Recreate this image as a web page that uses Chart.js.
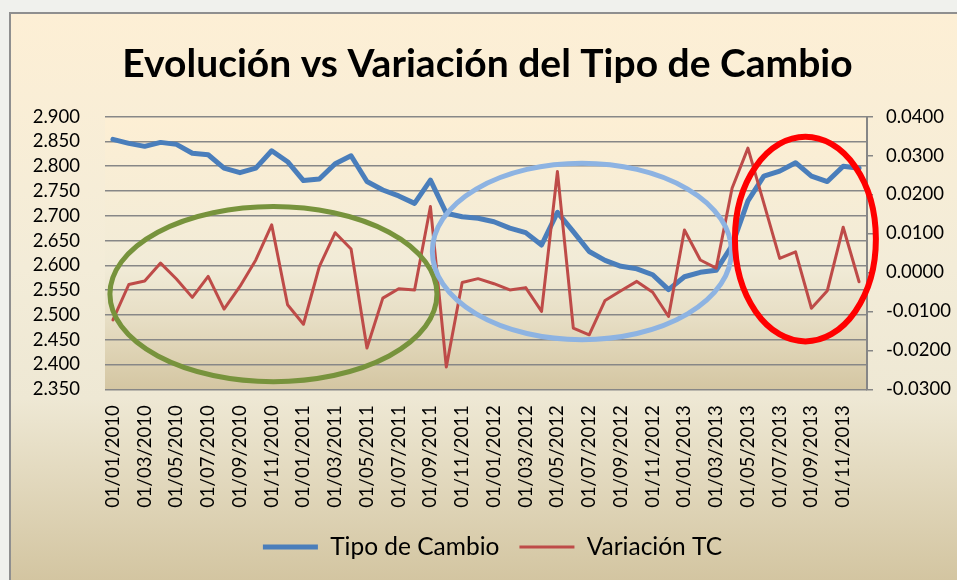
<!DOCTYPE html>
<html>
<head>
<meta charset="utf-8">
<script src="https://cdn.jsdelivr.net/npm/chart.js@4/dist/chart.umd.min.js"></script>
<style>
  html, body { margin: 0; padding: 0; background: #F0F1ED; }
  #wrap { width: 957px; height: 580px; }
</style>
</head>
<body>
<div id="wrap"><canvas id="c" width="957" height="580"></canvas></div>
<script>
// ---- data ----
const months = [
  "01/01/2010","01/02/2010","01/03/2010","01/04/2010","01/05/2010","01/06/2010",
  "01/07/2010","01/08/2010","01/09/2010","01/10/2010","01/11/2010","01/12/2010",
  "01/01/2011","01/02/2011","01/03/2011","01/04/2011","01/05/2011","01/06/2011",
  "01/07/2011","01/08/2011","01/09/2011","01/10/2011","01/11/2011","01/12/2011",
  "01/01/2012","01/02/2012","01/03/2012","01/04/2012","01/05/2012","01/06/2012",
  "01/07/2012","01/08/2012","01/09/2012","01/10/2012","01/11/2012","01/12/2012",
  "01/01/2013","01/02/2013","01/03/2013","01/04/2013","01/05/2013","01/06/2013",
  "01/07/2013","01/08/2013","01/09/2013","01/10/2013","01/11/2013","01/12/2013"
];
const tipoDeCambio = [
  2.854, 2.846, 2.840, 2.848, 2.844, 2.826, 2.823, 2.796, 2.787, 2.796, 2.831, 2.809,
  2.771, 2.774, 2.805, 2.821, 2.769, 2.752, 2.740, 2.725, 2.772, 2.705, 2.698, 2.695,
  2.688, 2.675, 2.666, 2.641, 2.707, 2.668, 2.628, 2.610, 2.598, 2.593, 2.581, 2.551,
  2.577, 2.586, 2.590, 2.640, 2.730, 2.780, 2.790, 2.807, 2.780, 2.769, 2.800, 2.796
];
const variacionTC = [
  -0.0122, -0.0031, -0.0022, 0.0024, -0.0017, -0.0064, -0.0010, -0.0094, -0.0036, 0.0032, 0.0122, -0.0083,
  -0.0133, 0.0015, 0.0102, 0.0060, -0.0194, -0.0066, -0.0042, -0.0045, 0.0169, -0.0243, -0.0026, -0.0016,
  -0.0029, -0.0045, -0.0039, -0.0100, 0.0259, -0.0143, -0.0160, -0.0072, -0.0047, -0.0023, -0.0051, -0.0113,
  0.0109, 0.0032, 0.0011, 0.0216, 0.0319, 0.0178, 0.0036, 0.0053, -0.0092, -0.0047, 0.0116, -0.0024
];
const leftTicks = { min: 2.35, max: 2.9, step: 0.05 };
const rightTicks = { min: -0.03, max: 0.04, step: 0.01 };
const seriesNames = ["Tipo de Cambio", "Variación TC"];
const titleText = "Evolución vs Variación del Tipo de Cambio";

// highlight ellipses, in data units (category index, left-axis value)
const highlights = [
  { cx: 10.11, cy: 2.542, rx: 10.30, ry: 0.1766, color: "#77933C", width: 5 },
  { cx: 29.54, cy: 2.628, rx: 9.42,  ry: 0.178,  color: "#8DB3E2", width: 5 },
  { cx: 43.62, cy: 2.653, rx: 4.44,  ry: 0.2064, color: "#FF0000", width: 6 }
];

// ---- layout constants ----
const PLOT_LEFT = 105, PLOT_RIGHT = 867, PLOT_BOTTOM = 389.3, LAYOUT_BOTTOM = 10.75;
const LEGEND_SHIFT = 14, TITLE_SHIFT = 9;

const bgPlugin = {
  id: 'bg',
  beforeDraw(chart) {
    const ctx = chart.ctx, W = chart.width, H = chart.height;
    ctx.save();
    ctx.fillStyle = '#F0F1ED';
    ctx.fillRect(0, 0, W, H);
    const g = ctx.createLinearGradient(0, 13, 0, H);
    g.addColorStop(0, '#FDEFD5');
    g.addColorStop(0.45, '#F3ECD8');
    g.addColorStop(0.68, '#EEE8D4');
    g.addColorStop(1, '#D3C5A1');
    ctx.fillStyle = g;
    ctx.fillRect(10, 13, W, H);
    ctx.strokeStyle = '#8F8F8F';
    ctx.lineWidth = 2;
    ctx.strokeRect(10, 13, W + 10, H + 10);
    const a = chart.chartArea;
    const pg = ctx.createLinearGradient(0, a.top, 0, a.bottom);
    pg.addColorStop(0, '#FDEFD4');
    pg.addColorStop(0.55, '#F1EBD7');
    pg.addColorStop(0.75, '#E6DDC3');
    pg.addColorStop(1, '#D4C6A2');
    ctx.fillStyle = pg;
    ctx.fillRect(a.left, a.top, a.right - a.left, a.bottom - a.top);
    ctx.restore();
  }
};

const shiftPlugin = {
  id: 'shiftBlocks',
  afterLayout(chart) {
    if (chart.legend) {
      chart.legend.left += LEGEND_SHIFT;
      chart.legend.right += LEGEND_SHIFT;
    }
    if (chart.titleBlock) {
      chart.titleBlock.left += TITLE_SHIFT;
      chart.titleBlock.right += TITLE_SHIFT;
    }
  }
};

const ellipsePlugin = {
  id: 'ellipses',
  afterDatasetsDraw(chart) {
    const ctx = chart.ctx, xs = chart.scales.x, ys = chart.scales.y;
    ctx.save();
    highlights.forEach(e => {
      const cx = xs.getPixelForValue(e.cx);
      const rx = xs.getPixelForValue(e.cx + e.rx) - cx;
      const cy = ys.getPixelForValue(e.cy);
      const ry = cy - ys.getPixelForValue(e.cy + e.ry);
      ctx.beginPath();
      ctx.ellipse(cx, cy, Math.abs(rx), Math.abs(ry), 0, 0, Math.PI * 2);
      ctx.strokeStyle = e.color;
      ctx.lineWidth = e.width;
      ctx.stroke();
    });
    ctx.restore();
  }
};

const tickFont = { family: 'Lato', size: 18.5 };

new Chart(document.getElementById('c'), {
  type: 'line',
  data: {
    labels: months,
    datasets: [
      {
        label: seriesNames[0],
        data: tipoDeCambio,
        yAxisID: 'y',
        borderColor: '#4A7EBB',
        backgroundColor: '#4A7EBB',
        borderWidth: 5,
        pointRadius: 0,
        pointStyle: 'line',
        tension: 0,
        borderJoinStyle: 'round',
        borderCapStyle: 'round',
        order: 1
      },
      {
        label: seriesNames[1],
        data: variacionTC,
        yAxisID: 'y1',
        borderColor: '#BE4B48',
        backgroundColor: '#BE4B48',
        borderWidth: 3,
        pointRadius: 0,
        pointStyle: 'line',
        tension: 0,
        borderJoinStyle: 'round',
        borderCapStyle: 'round',
        order: 0
      }
    ]
  },
  options: {
    responsive: false,
    animation: false,
    devicePixelRatio: 1,
    layout: { padding: { left: 0, right: 0, top: 0, bottom: LAYOUT_BOTTOM } },
    plugins: {
      tooltip: { enabled: false },
      title: {
        display: true,
        text: titleText,
        color: '#000',
        font: { family: 'Lato', weight: 'bold', size: 39, lineHeight: 1.2 },
        padding: { top: 41, bottom: 28.8 }
      },
      legend: {
        position: 'bottom',
        labels: {
          usePointStyle: true,
          pointStyleWidth: 55,
          padding: 20,
          color: '#000',
          font: { family: 'Lato', size: 24.5 },
          sort: (a, b) => a.datasetIndex - b.datasetIndex
        }
      }
    },
    scales: {
      x: {
        offset: true,
        grid: { display: false, drawTicks: false },
        border: { display: false },
        ticks: {
          autoSkip: false,
          maxRotation: 90,
          minRotation: 90,
          padding: 16,
          color: '#000',
          font: tickFont,
          callback: (v, i) => (i % 2 === 0 ? months[i] : '')
        },
        afterFit: s => {
          const lh = s.chart.legend ? s.chart.legend.height : 0;
          s.height = s.chart.height - LAYOUT_BOTTOM - lh - PLOT_BOTTOM;
        }
      },
      y: {
        position: 'left',
        min: leftTicks.min,
        max: leftTicks.max,
        grid: { color: '#878787', lineWidth: 1.5, drawTicks: false },
        border: { display: false },
        ticks: {
          autoSkip: false,
          stepSize: leftTicks.step,
          padding: 25,
          color: '#000',
          font: tickFont,
          callback: v => v.toFixed(3)
        },
        afterFit: s => { s.width = PLOT_LEFT; }
      },
      y1: {
        position: 'right',
        min: rightTicks.min,
        max: rightTicks.max,
        grid: { drawOnChartArea: false, color: '#868686', lineWidth: 1.5, tickLength: 6 },
        border: { display: true, color: '#868686', width: 2 },
        ticks: {
          autoSkip: false,
          stepSize: rightTicks.step,
          padding: 13,
          color: '#000',
          font: tickFont,
          callback: v => (Math.abs(v) < 1e-9 ? 0 : v).toFixed(4)
        },
        afterFit: s => { s.width = 957 - PLOT_RIGHT; }
      }
    }
  },
  plugins: [bgPlugin, shiftPlugin, ellipsePlugin]
});
</script>
</body>
</html>
